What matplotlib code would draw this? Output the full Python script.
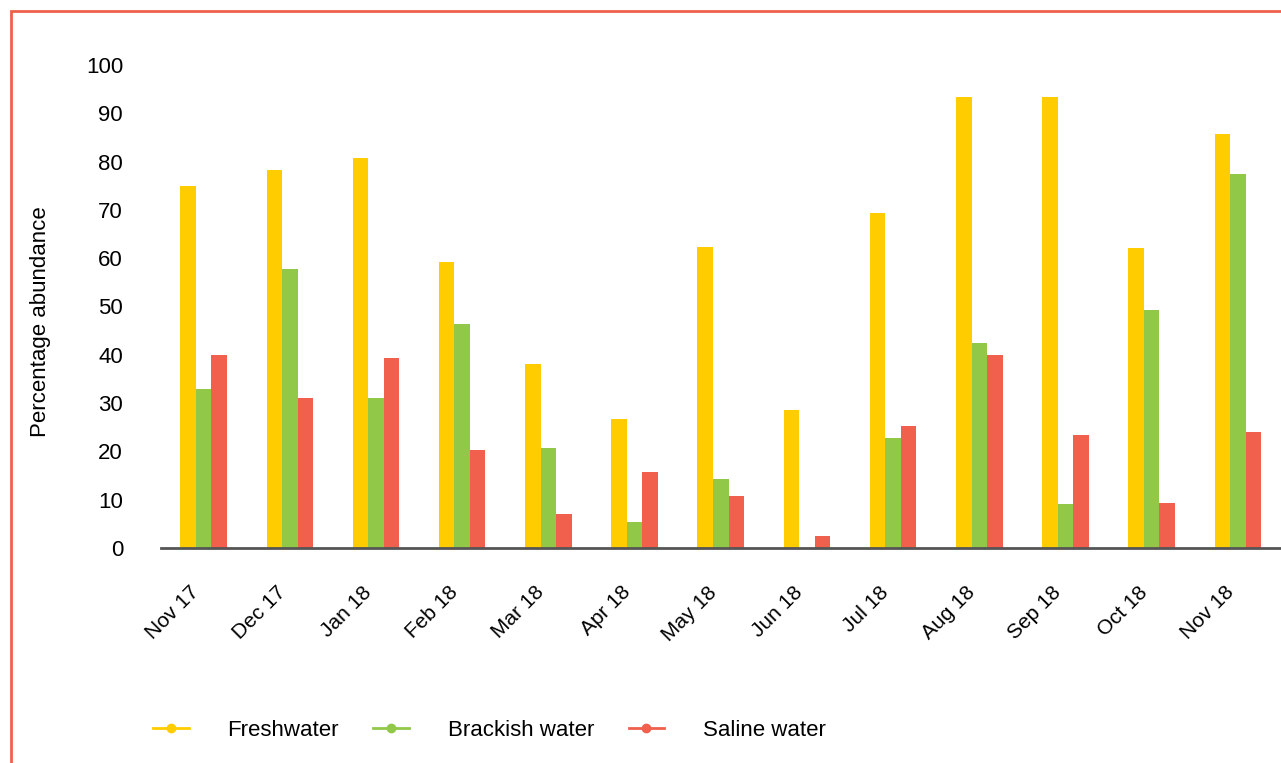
import matplotlib.pyplot as plt
import matplotlib.transforms as mtransforms
import numpy as np
from matplotlib.lines import Line2D
from matplotlib.patches import Rectangle

months = ["Nov 17", "Dec 17", "Jan 18", "Feb 18", "Mar 18", "Apr 18", "May 18",
          "Jun 18", "Jul 18", "Aug 18", "Sep 18", "Oct 18", "Nov 18"]
freshwater = [75.0, 78.3, 80.7, 59.2, 38.1, 26.7, 62.3, 28.6, 69.4, 93.4, 93.4, 62.1, 85.7]
brackish = [33.0, 57.8, 31.1, 46.4, 20.7, 5.4, 14.3, 0.0, 22.8, 42.4, 9.1, 49.3, 77.4]
saline = [40.0, 31.1, 39.3, 20.3, 7.0, 15.7, 10.8, 2.5, 25.3, 40.0, 23.4, 9.3, 24.0]
series_names = ["Freshwater", "Brackish water", "Saline water"]
colors = ["#FFCC00", "#92C848", "#F0604D"]

plt.rcParams['font.family'] = ['Liberation Sans', 'DejaVu Sans']

W, H = 1281, 763
fig = plt.figure(figsize=(W / 100, H / 100), dpi=100)

# axes in pixel terms: left 160.5, right 1281, top 65, bottom 548
ax = fig.add_axes([160.5 / W, 1 - 548 / H, (1281 - 160.5) / W, (548 - 65) / H])

x = np.arange(len(months))
bw = 0.18
for i, (vals, c) in enumerate(zip([freshwater, brackish, saline], colors)):
    ax.bar(x + (i - 1) * bw, vals, width=bw, color=c, linewidth=0, zorder=2)

ax.set_xlim(-0.5, len(months) - 0.5)
ax.set_ylim(0, 100)
ax.set_yticks(range(0, 101, 10))
ax.tick_params(axis='y', length=0, pad=27, labelsize=16)
ax.set_xticks(x)
ax.set_xticklabels(months, rotation=45, ha='right', rotation_mode='anchor', fontsize=15)
ax.tick_params(axis='x', length=0, pad=25)
shift = mtransforms.ScaledTranslation(-14 / 100, 0, fig.dpi_scale_trans)
for lab in ax.get_xticklabels():
    lab.set_transform(lab.get_transform() + shift)

for s in ['top', 'right', 'left']:
    ax.spines[s].set_visible(False)
ax.spines['bottom'].set_color('#555555')
ax.spines['bottom'].set_linewidth(2)
ax.spines['bottom'].set_zorder(3)

fig.text(41 / W, 1 - 322 / H, "Percentage abundance", rotation=90,
         ha='center', va='center', fontsize=16)

handles = [Line2D([0], [0], color=c, lw=2, marker='o', markersize=6) for c in colors]
fig.legend(handles, series_names, loc='center left', bbox_to_anchor=(153 / W, 1 - 730 / H),
           ncol=3, frameon=False, fontsize=16, handlelength=1.6, handletextpad=1.75,
           columnspacing=1.55, borderpad=0.0, borderaxespad=0.0)

# outer frame
fig.patches.append(Rectangle((10.5 / W, -0.1), 1.2, 1 - 11.5 / H + 0.1,
                             transform=fig.transFigure, fill=False,
                             edgecolor='#F0604D', linewidth=2, zorder=10))

fig.savefig("out.png", dpi=100)
